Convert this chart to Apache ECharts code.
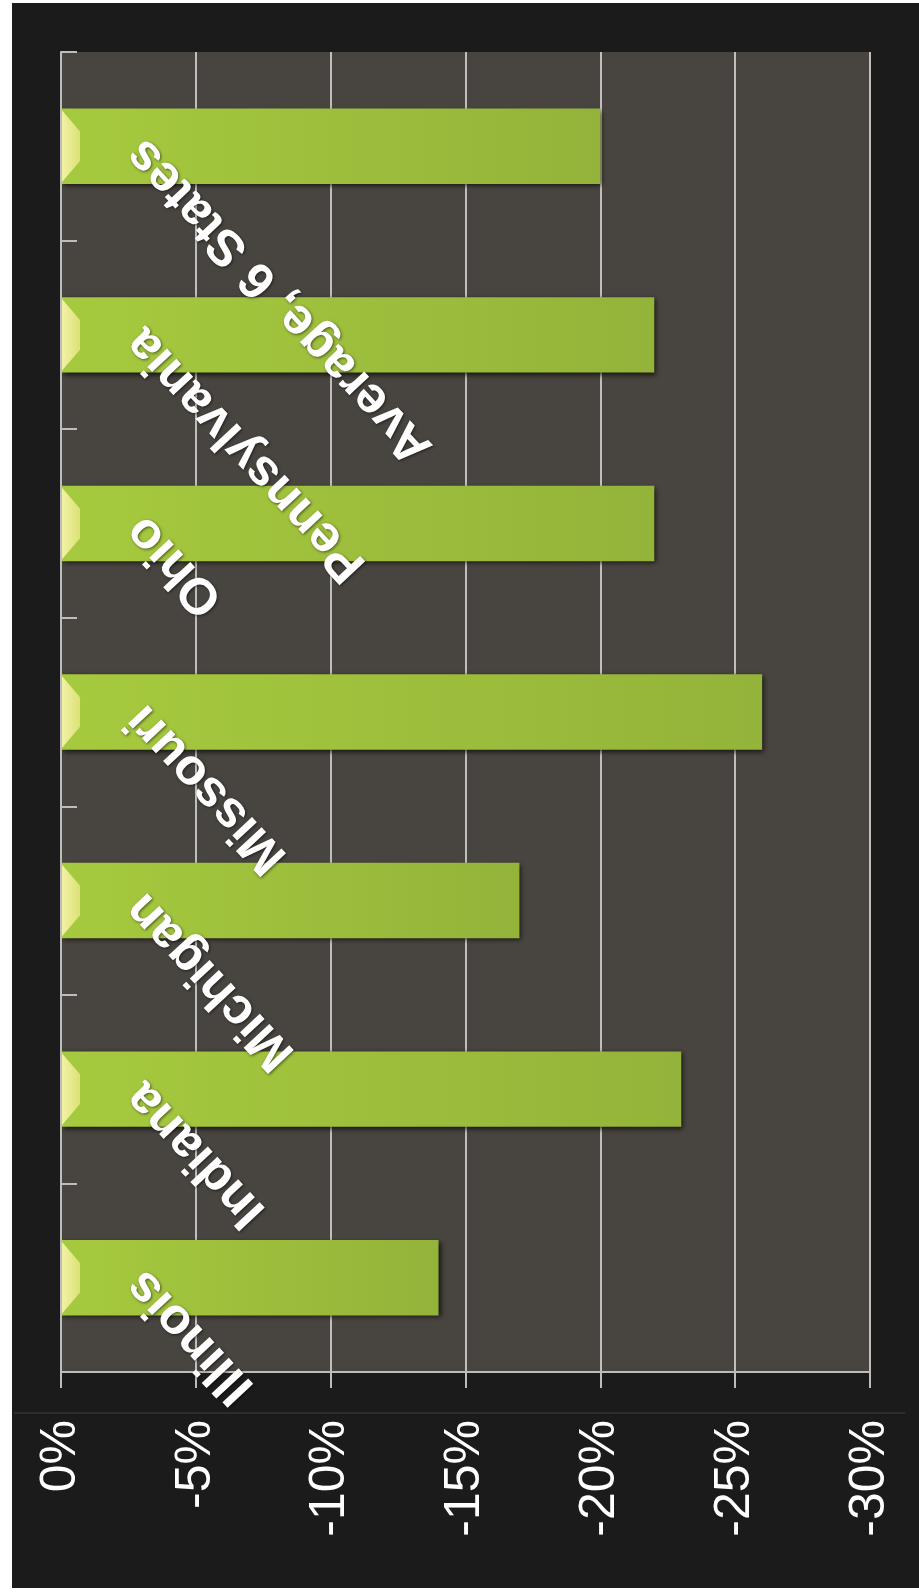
<!DOCTYPE html>
<html><head><meta charset="utf-8">
<script src="https://cdn.jsdelivr.net/npm/echarts@6/dist/echarts.min.js"></script>
<style>html,body{margin:0;padding:0;background:#fff}#c{width:919px;height:1593px}</style>
</head><body><div id="c"></div>
<script>
const categories = ['Illinois', 'Indiana', 'Michigan', 'Missouri', 'Ohio', 'Pennsylvania', 'Average, 6 States'];
const changes = [-14, -23, -17, -26, -22, -22, -20];
const valueMin = -30;
const valueMax = 0;
const valueStep = 5;

const FONT = '"Liberation Sans", Arial, sans-serif';
const chart = echarts.init(document.getElementById('c'), null, {renderer: 'canvas'});
chart.setOption({
  animation: false,
  backgroundColor: '#ffffff',
  graphic: [
    {type: 'rect', left: 12, top: 3, shape: {width: 907, height: 1585}, style: {fill: '#1b1b1b'}, z: -100, silent: true},
    {type: 'line', shape: {x1: 14, y1: 1413, x2: 905, y2: 1413}, style: {stroke: '#353535', lineWidth: 1.5}, z: -90, silent: true}
  ],
  grid: {left: 61, top: 52, right: 49, bottom: 221, show: true, backgroundColor: '#48443f', borderWidth: 0, containLabel: false, outerBoundsMode: 'none'},
  xAxis: {
    type: 'value', min: valueMin, max: valueMax, interval: valueStep, inverse: true, position: 'bottom',
    axisLine: {show: true, onZero: false, lineStyle: {color: '#bdbdbd', width: 2}},
    axisTick: {show: true, length: 16, lineStyle: {color: '#bdbdbd', width: 2}},
    splitLine: {show: true, lineStyle: {color: '#bfbfbf', width: 2}},
    axisLabel: {rotate: 90, margin: 48, color: '#ffffff', fontFamily: FONT, fontSize: 50, formatter: '{value}%'}
  },
  yAxis: {
    type: 'category', data: categories, position: 'left', z: 10,
    axisLine: {show: true, onZero: false, lineStyle: {color: '#bdbdbd', width: 2}},
    axisTick: {show: true, inside: true, length: 16, interval: 0, lineStyle: {color: '#bdbdbd', width: 2}},
    splitLine: {show: false},
    axisLabel: {inside: true, rotate: 133, margin: 74, interval: 0, hideOverlap: false, color: '#ffffff',
      fontWeight: 'bold', fontSize: 51, fontFamily: FONT,
      textShadowColor: 'rgba(0,0,0,0.55)', textShadowBlur: 3, textShadowOffsetX: 1, textShadowOffsetY: 1}
  },
  series: [
    {
      type: 'bar', data: changes, barWidth: '40%', z: 2,
      itemStyle: {
        color: new echarts.graphic.LinearGradient(0, 0, 1, 0, [
          {offset: 0, color: '#a6ca3e'},
          {offset: 1, color: '#94b33a'}
        ]),
        shadowColor: 'rgba(0,0,0,0.7)', shadowBlur: 5, shadowOffsetX: 2, shadowOffsetY: 2
      }
    },
    {
      type: 'pictorialBar', data: changes, z: 3, silent: true,
      symbol: 'path://M0,0 L1,0.3 L1,0.7 L0,1 Z', symbolSize: [19, 74], symbolPosition: 'start',
      itemStyle: {color: new echarts.graphic.LinearGradient(0, 0, 1, 0, [
        {offset: 0, color: '#f4f2a8'},
        {offset: 1, color: '#dbe276'}
      ])}
    }
  ]
});
</script>
</body></html>
